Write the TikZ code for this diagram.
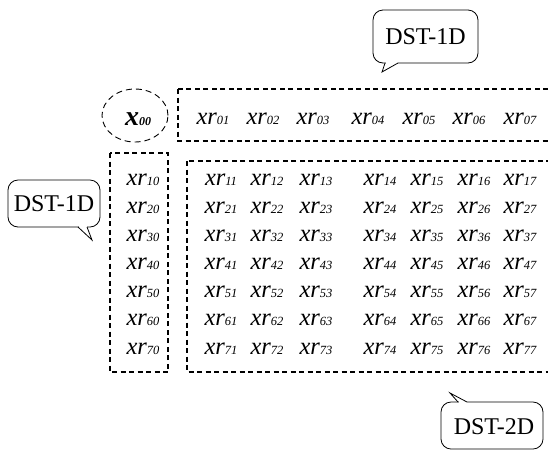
\documentclass[tikz,border=0pt]{standalone}
\usepackage{fontspec}
\setmainfont{Liberation Serif}
\usetikzlibrary{shapes.geometric}
\newcommand\xrl[1]{\itshape xr{\fontsize{12.5}{13}\selectfont #1}}
\begin{document}
\begin{tikzpicture}[x=1pt,y=-1pt,
  grid/.style={font=\fontsize{24.5}{26}\selectfont, inner sep=0pt, anchor=base},
  dbox/.style={draw, line width=1.4pt, dash pattern=on 5pt off 3.5pt},
  dell/.style={draw, ellipse, line width=0.9pt, dash pattern=on 6pt off 4pt, inner sep=0pt},
  callout/.style={line width=0.8pt},
  ctext/.style={font=\fontsize{24}{26}\selectfont, inner sep=0pt}]
\useasboundingbox (0,0) rectangle (548,451);
\clip (0,0) rectangle (548,451);

% dashed boxes
\draw[dbox] (178,89) rectangle (600,141);
\draw[dbox] (110,153) rectangle (168,372);
\draw[dbox] (187,161) rectangle (600,372);

% ellipse with x00
\node[dell, minimum width=66pt, minimum height=53pt] (ell) at (135,115.5) {};
\node[inner sep=0pt, anchor=base, font=\fontsize{28}{29}\selectfont] (x00) at (138,125)
  {\bfseries\itshape x{\fontsize{12}{13}\selectfont 00}};

% top row
\foreach \c/\x in {1/213,2/263,3/313,4/368,5/419,6/469,7/520}
  \node[grid] (r0\c) at (\x,124) {\xrl{0\c}};

% left column
\foreach \r in {1,...,7}
  \node[grid] (r\r0) at (143,{185.7+28.05*(\r-1)}) {\xrl{\r0}};

% main grid
\foreach \r in {1,...,7}
  \foreach \c/\x in {1/221,2/267,3/316,4/380,5/427,6/474,7/520}
    \node[grid] (r\r\c) at (\x,{185.7+28.05*(\r-1)}) {\xrl{\r\c}};

% callout top
\draw[callout, rounded corners=10pt] (373,10) rectangle (478,63);
\fill[white] (385.5,61.5) rectangle (397.5,64.5);
\draw[callout] (385,63) -- (382,72) -- (398,63);
\node[ctext] (c1) at (425.5,37) {DST-1D};

% callout left
\draw[callout, rounded corners=10pt] (8,180) rectangle (100,227);
\fill[white] (78.5,225.5) rectangle (86.5,228.5);
\draw[callout] (78,227) -- (92,240) -- (87,227);
\node[ctext] (c2) at (54,204) {DST-1D};

% callout bottom
\draw[callout, rounded corners=10pt] (441,402) rectangle (543,449);
\fill[white] (458.5,400.5) rectangle (466.5,403.5);
\draw[callout] (458,402) -- (450,393) -- (467,402);
\node[ctext] (c3) at (494,427) {DST-2D};
\end{tikzpicture}
\end{document}
